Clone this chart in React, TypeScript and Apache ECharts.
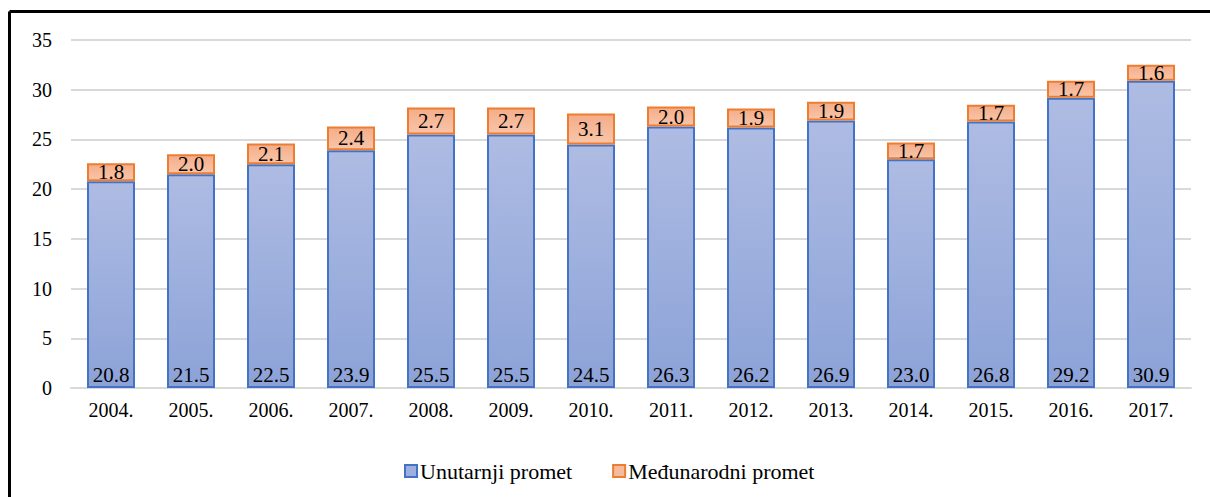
import React, { useEffect, useRef } from "react";
import * as echarts from "echarts";

const categories = ["2004.", "2005.", "2006.", "2007.", "2008.", "2009.", "2010.", "2011.", "2012.", "2013.", "2014.", "2015.", "2016.", "2017."];
const domestic = [20.8, 21.5, 22.5, 23.9, 25.5, 25.5, 24.5, 26.3, 26.2, 26.9, 23.0, 26.8, 29.2, 30.9];
const international = [1.8, 2.0, 2.1, 2.4, 2.7, 2.7, 3.1, 2.0, 1.9, 1.9, 1.7, 1.7, 1.7, 1.6];
const seriesNames = ["Unutarnji promet", "Međunarodni promet"];

const FONT = "'Liberation Serif', 'Times New Roman', serif";

export default function App() {
  const ref = useRef<HTMLDivElement>(null);
  useEffect(() => {
    document.body.style.margin = "0";
    const chart = echarts.init(ref.current!, null, { renderer: "svg" });
    const blueFill = new echarts.graphic.LinearGradient(0, 0, 0, 1, [
      { offset: 0, color: "#aebce3" },
      { offset: 1, color: "#8ca2d7" },
    ]);
    const orangeFill = new echarts.graphic.LinearGradient(0, 0, 0, 1, [
      { offset: 0, color: "#f4ad89" },
      { offset: 1, color: "#f8c5a9" },
    ]);
    chart.setOption({
      animation: false,
      backgroundColor: "#ffffff",
      grid: { left: 71, right: 19, top: 40, bottom: 109 },
      legend: {
        left: 399,
        top: 455,
        itemWidth: 12,
        itemHeight: 12,
        itemGap: 40,
        icon: "rect",
        textStyle: { fontFamily: FONT, fontSize: 22, color: "#000", padding: [0, 0, 0, -2] },
        data: [
          { name: seriesNames[0], itemStyle: { color: "#9db0df", borderColor: "#4472c4", borderWidth: 2 } },
          { name: seriesNames[1], itemStyle: { color: "#f6bb9c", borderColor: "#ed7d31", borderWidth: 2 } },
        ],
      },
      xAxis: {
        type: "category",
        data: categories,
        axisLine: { lineStyle: { color: "#d9d9d9", width: 2 } },
        axisTick: { show: false },
        axisLabel: { fontFamily: FONT, fontSize: 20, color: "#000", margin: 12 },
      },
      yAxis: {
        type: "value",
        min: 0,
        max: 35,
        interval: 5,
        axisLine: { show: false },
        axisTick: { show: false },
        splitLine: { lineStyle: { color: "#d9d9d9", width: 2 } },
        axisLabel: { fontFamily: FONT, fontSize: 20, color: "#000", margin: 19 },
      },
      series: [
        {
          name: seriesNames[0],
          type: "bar",
          stack: "total",
          data: domestic,
          barCategoryGap: "40%",
          itemStyle: { color: blueFill, borderColor: "#4472c4", borderWidth: 2 },
          label: {
            show: true,
            position: "insideBottom",
            distance: 3,
            fontFamily: FONT,
            fontSize: 21,
            color: "#000",
            formatter: (p: any) => p.value.toFixed(1),
          },
        },
        {
          name: seriesNames[1],
          type: "bar",
          stack: "total",
          data: international,
          itemStyle: { color: orangeFill, borderColor: "#ed7d31", borderWidth: 2 },
          label: {
            show: true,
            position: "inside",
            fontFamily: FONT,
            fontSize: 21,
            color: "#000",
            formatter: (p: any) => p.value.toFixed(1),
          },
        },
      ],
      graphic: [
        { type: "line", shape: { x1: 9.5, y1: 11.5, x2: 1210, y2: 11.5 }, style: { stroke: "#000", lineWidth: 3 } },
        { type: "line", shape: { x1: 9.5, y1: 11.5, x2: 9.5, y2: 497 }, style: { stroke: "#000", lineWidth: 3 } },
      ],
    });
    return () => chart.dispose();
  }, []);
  return <div ref={ref} style={{ position: "absolute", left: 0, top: 0, width: 1210, height: 497 }} />;
}
